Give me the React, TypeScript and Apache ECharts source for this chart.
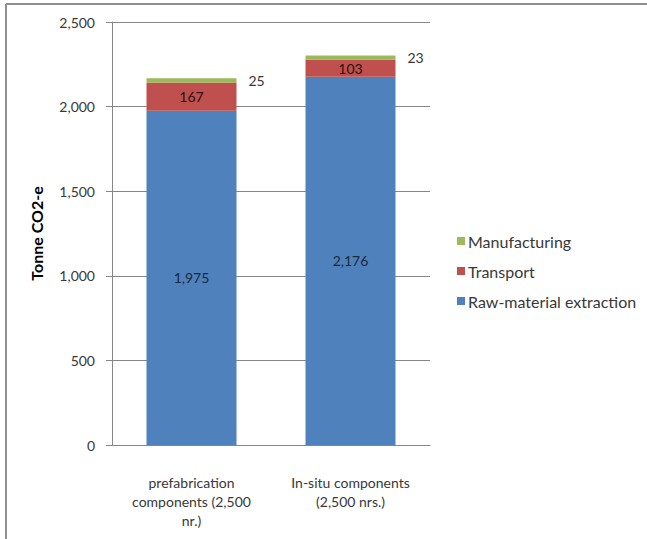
import React, { useEffect, useRef } from "react";
import * as echarts from "echarts";

const categories = ["prefabrication\ncomponents (2,500\nnr.)", "In-situ components\n(2,500 nrs.)"];
const rawMaterial = [1975, 2176];
const transport = [167, 103];
const manufacturing = [25, 23];
const yTicks = { min: 0, max: 2500, interval: 500 };

const FONT = "Lato, 'Noto Sans', sans-serif";

export default function App() {
  const ref = useRef<HTMLDivElement>(null);
  useEffect(() => {
    document.body.style.margin = "0";
    const chart = echarts.init(ref.current!, null, { renderer: "svg" });
    const fmt = (p: any) => Number(p.value).toLocaleString("en-US");
    chart.setOption({
      animation: false,
      backgroundColor: "#ffffff",
      textStyle: { fontFamily: FONT },
      grid: { left: 112, top: 22, right: 217, bottom: 94, containLabel: false },
      legend: {
        orient: "vertical",
        left: 452,
        top: 228,
        itemWidth: 8,
        itemHeight: 8,
        itemGap: 14,
        icon: "rect",
        data: ["Manufacturing", "Transport", "Raw-material extraction"],
        textStyle: { color: "#383838", fontSize: 16, fontFamily: FONT, padding: [0, 0, 0, -2] },
      },
      xAxis: {
        type: "category",
        data: categories,
        axisLine: { lineStyle: { color: "#868686", width: 1 } },
        axisTick: { show: false },
        axisLabel: { color: "#383838", fontSize: 14, lineHeight: 19, margin: 28, interval: 0, fontFamily: FONT },
      },
      yAxis: {
        type: "value",
        min: yTicks.min,
        max: yTicks.max,
        interval: yTicks.interval,
        name: "Tonne CO2-e",
        nameLocation: "middle",
        nameGap: 68,
        nameRotate: 90,
        nameTextStyle: { color: "#000", fontSize: 16, fontWeight: "bold", fontFamily: FONT },
        axisLine: { show: true, lineStyle: { color: "#868686", width: 1 } },
        axisTick: { show: true, length: 6, lineStyle: { color: "#868686" } },
        axisLabel: {
          color: "#383838",
          fontSize: 14,
          margin: 17,
          fontFamily: FONT,
          formatter: (v: number) => v.toLocaleString("en-US"),
        },
        splitLine: { show: true, lineStyle: { color: "#868686", width: 1 } },
      },
      series: [
        {
          name: "Raw-material extraction",
          type: "bar",
          stack: "total",
          data: rawMaterial,
          barWidth: "56.6%",
          itemStyle: { color: "#4F81BD" },
          label: { show: true, position: "inside", color: "#1c2a3a", fontSize: 14, formatter: fmt, fontFamily: FONT },
        },
        {
          name: "Transport",
          type: "bar",
          stack: "total",
          data: transport,
          itemStyle: { color: "#C0504D" },
          label: { show: true, position: "inside", color: "#2a1010", fontSize: 14, formatter: fmt, fontFamily: FONT },
        },
        {
          name: "Manufacturing",
          type: "bar",
          stack: "total",
          data: manufacturing,
          itemStyle: { color: "#9BBB59" },
          label: { show: true, position: "right", distance: 12, color: "#383838", fontSize: 14, formatter: fmt, fontFamily: FONT },
        },
      ],
      graphic: [
        { type: "line", shape: { x1: 6, y1: 4, x2: 647, y2: 4 }, style: { stroke: "#8f8f8f", lineWidth: 2 } },
        { type: "line", shape: { x1: 6, y1: 4, x2: 6, y2: 539 }, style: { stroke: "#8f8f8f", lineWidth: 2 } },
      ],
    });
    return () => chart.dispose();
  }, []);
  return <div ref={ref} style={{ width: 647, height: 539 }} />;
}
